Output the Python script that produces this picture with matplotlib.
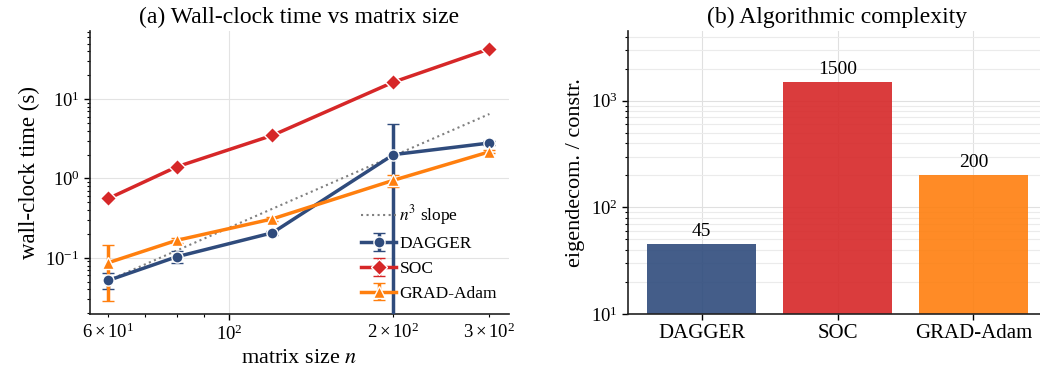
import numpy as np
import matplotlib
matplotlib.use("Agg")
import matplotlib.pyplot as plt

plt.rcParams['font.family'] = ['Liberation Serif', 'DejaVu Serif']
plt.rcParams['mathtext.fontset'] = 'stix'
plt.rcParams['font.size'] = 12

# данные для панели (a)
sizes = [60, 80, 120, 200, 300]
dagger_t = [0.052, 0.103, 0.207, 2.0, 2.8]
dagger_err = [0.012, 0.018, 0.012, 2.9, 0.15]
soc_t = [0.56, 1.40, 3.5, 16.4, 43.0]
soc_err = [0.02, 0.05, 0.1, 0.4, 1.5]
grad_t = [0.087, 0.166, 0.31, 0.95, 2.17]
grad_err = [0.058, 0.012, 0.02, 0.17, 0.1]

# данные для панели (b)
methods = ['DAGGER', 'SOC', 'GRAD-Adam']
eig_counts = [45, 1500, 200]

c_dagger = '#2f4b7c'
c_soc = '#d62728'
c_grad = '#ff7f0e'

fig = plt.figure(figsize=(10.4, 3.87), dpi=100)
ax1 = fig.add_axes([0.0865, 0.1886, 0.403, 0.731])
ax2 = fig.add_axes([0.604, 0.1886, 0.4026, 0.731])

"""Панель (a)"""

ref = [dagger_t[0] * (n / sizes[0]) ** 3 for n in sizes]
ax1.plot(sizes, ref, ':', color='gray', lw=1.5, label='$n^3$ slope', zorder=2)

style = dict(lw=2.5, elinewidth=2.5, capsize=4, capthick=1.5,
             markeredgecolor='white', markeredgewidth=1.0, zorder=3)
ax1.errorbar(sizes, dagger_t, yerr=dagger_err, color=c_dagger, marker='o',
             ms=8, label='DAGGER', **style)
ax1.errorbar(sizes, soc_t, yerr=soc_err, color=c_soc, marker='D',
             ms=8, label='SOC', **style)
ax1.errorbar(sizes, grad_t, yerr=grad_err, color=c_grad, marker='^',
             ms=8.5, label='GRAD-Adam', **style)

ax1.set_xscale('log')
ax1.set_yscale('log')
ax1.set_xlim(55.5, 326)
ax1.set_ylim(0.0196, 72)
ax1.set_title('(a) Wall-clock time vs matrix size', fontsize=17)
ax1.set_xlabel('matrix size $n$', fontsize=16)
ax1.set_ylabel('wall-clock time (s)', fontsize=16.5)
ax1.grid(True, which='major', color='#e3e3e3', lw=0.8)
ax1.legend(loc='lower right', frameon=False, handletextpad=0.2,
           borderaxespad=0.3, fontsize=12.5)

"""Панель (b)"""

x = np.arange(len(methods))
bars = ax2.bar(x, eig_counts, width=0.8, color=[c_dagger, c_soc, c_grad],
               alpha=0.9, zorder=2)
for b, v in zip(bars, eig_counts):
    ax2.annotate(str(v), (b.get_x() + b.get_width() / 2, v),
                 xytext=(0, 3), textcoords='offset points',
                 ha='center', va='bottom', fontsize=14)
ax2.set_yscale('log')
ax2.set_ylim(10, 4500)
ax2.set_xlim(-0.54, 2.54)
ax2.set_xticks(x)
ax2.set_xticklabels(methods)
ax2.set_title('(b) Algorithmic complexity', fontsize=17)
ax2.set_ylabel('eigendecom. / constr.', fontsize=16)
ax2.grid(True, which='major', color='#e0e0e0', lw=0.8, zorder=0)
ax2.grid(True, which='minor', axis='y', color='#ebebeb', lw=0.8, zorder=0)
ax2.set_axisbelow(True)

for ax in (ax1, ax2):
    for s in ('top', 'right'):
        ax.spines[s].set_visible(False)
    for s in ('left', 'bottom'):
        ax.spines[s].set_linewidth(1.2)
        ax.spines[s].set_color('#222222')
    ax.tick_params(which='major', length=4, width=1.0, labelsize=13.5)
    ax.tick_params(which='minor', length=2.5, width=0.8, labelsize=13.5)
ax2.tick_params(axis='x', labelsize=15)

fig.savefig('out.png', dpi=100)
